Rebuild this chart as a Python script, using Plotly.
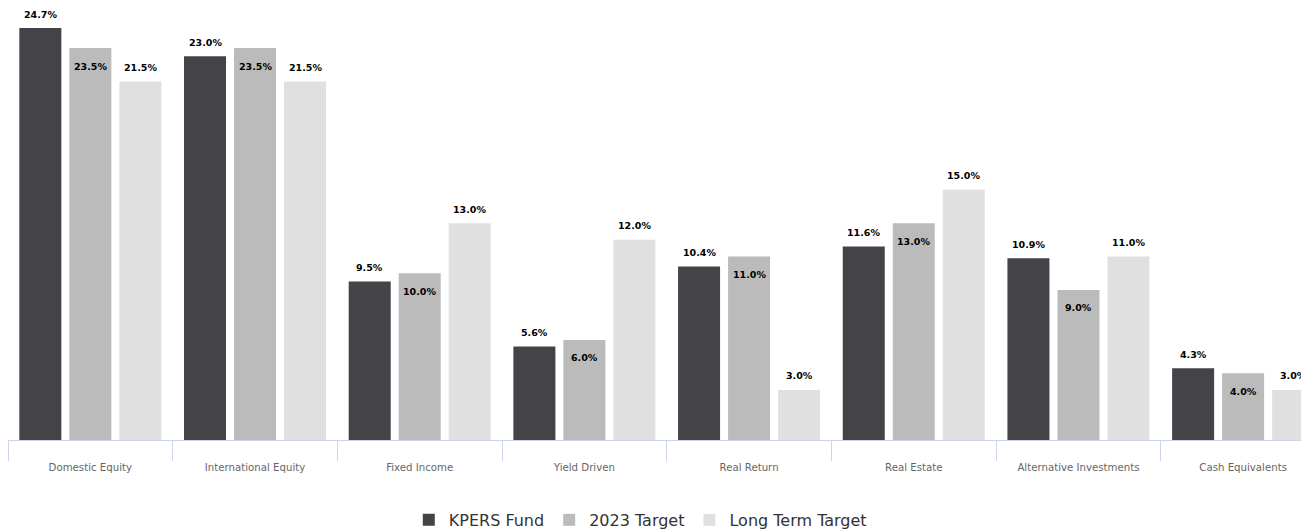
import plotly.graph_objects as go

categories = ["Domestic Equity", "International Equity", "Fixed Income", "Yield Driven",
              "Real Return", "Real Estate", "Alternative Investments", "Cash Equivalents"]
kpers_fund = [24.7, 23.0, 9.5, 5.6, 10.4, 11.6, 10.9, 4.3]
target_2023 = [23.5, 23.5, 10.0, 6.0, 11.0, 13.0, 9.0, 4.0]
long_term = [21.5, 21.5, 13.0, 12.0, 3.0, 15.0, 11.0, 3.0]

series = [
    ("KPERS Fund", kpers_fund, "#434348", 14),
    ("2023 Target", target_2023, "#bbbbbb", -18),
    ("Long Term Target", long_term, "#e0e0e0", 14),
]

BARGAP = 0.089
FONT = "DejaVu Sans"

fig = go.Figure()
annotations = []
slot = (1 - BARGAP) / 3
for k, (name, vals, color, shift) in enumerate(series):
    fig.add_trace(go.Bar(
        name=name, x=categories, y=vals,
        marker=dict(color=color, line=dict(width=0)),
        hoverinfo="x+y+name",
    ))
    for i, v in enumerate(vals):
        annotations.append(dict(
            x=i + (k - 1) * slot, y=v, xref="x", yref="y",
            text=f"<b>{v:.1f}%</b>", showarrow=False,
            yanchor="middle", yshift=shift,
            font=dict(family=FONT, size=9.5, color="#000000"),
        ))

fig.update_layout(
    width=1301, height=531,
    margin=dict(l=0, r=0, t=0, b=99),
    paper_bgcolor="white", plot_bgcolor="white",
    barmode="group", bargap=BARGAP, bargroupgap=0.16,
    font=dict(family=FONT, color="#666666"),
    annotations=annotations,
    showlegend=True,
    legend=dict(orientation="h", x=0.486, xanchor="center", y=-0.185, yanchor="middle",
                font=dict(family=FONT, size=16, color="#333333"),
                itemclick=False, traceorder="normal"),
    xaxis=dict(
        type="category", range=[-0.5, 7.4], automargin=False,
        tickson="boundaries", ticks="outside", ticklen=20, tickcolor="#ccd6eb", tickwidth=1,
        ticklabelstandoff=18,
        showline=True, linecolor="#ccd6eb", linewidth=1,
        showgrid=False, tickfont=dict(family=FONT, size=10.2, color="#666666"),
    ),
    yaxis=dict(range=[0, 25.9], visible=False, showgrid=False, zeroline=False),
)

fig.write_html(
    "out.html",
    post_script="document.documentElement.style.overflow='hidden';document.body.style.overflow='hidden';",
)
